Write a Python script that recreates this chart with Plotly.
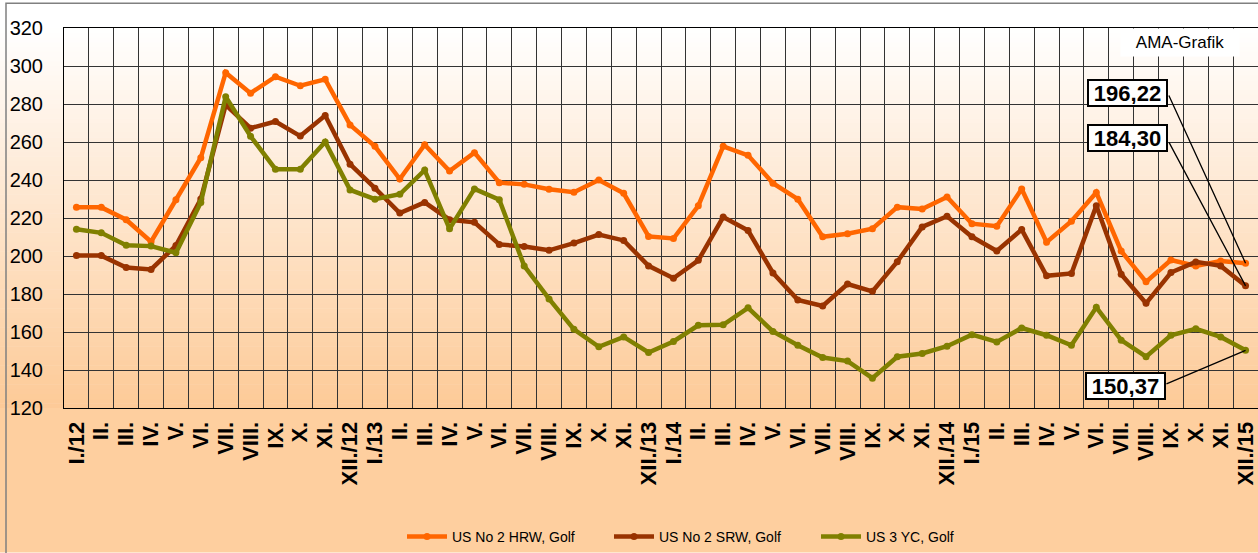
import plotly.graph_objects as go

# ---------------- data ----------------
roman = ["I.", "II.", "III.", "IV.", "V.", "VI.", "VII.", "VIII.", "IX.", "X.", "XI.", "XII."]
years = ["12", "13", "14", "15"]

hrw = [225.6, 225.6, 219.1, 207.5, 229.6, 251.7, 296.5, 285.7, 294.4, 289.6, 293.0, 269.0,
       257.7, 240.5, 258.6, 244.7, 254.4, 238.6, 237.7, 235.1, 233.6, 240.0, 233.0, 210.3,
       209.2, 226.4, 257.7, 253.0, 238.3, 229.9, 210.1, 211.7, 214.4, 225.7, 224.7, 231.1,
       217.0, 215.7, 235.3, 207.3, 218.3, 233.4, 202.6, 186.4, 197.9, 194.8, 197.4, 196.22]
srw = [200.2, 200.2, 193.9, 192.9, 205.5, 230.0, 279.5, 267.3, 270.8, 263.1, 273.9, 248.3,
       235.7, 222.6, 228.2, 219.1, 217.7, 206.1, 205.0, 203.0, 206.8, 211.3, 208.2, 194.8,
       188.3, 197.7, 220.5, 213.4, 191.1, 176.9, 173.7, 185.2, 181.4, 197.0, 215.3, 220.9,
       210.1, 202.6, 213.9, 189.6, 190.8, 226.4, 190.4, 175.1, 191.3, 196.9, 194.8, 184.30]
yc = [214.1, 212.2, 205.6, 205.2, 201.7, 228.2, 283.8, 263.0, 245.7, 245.7, 260.0, 234.8,
      229.9, 232.5, 245.2, 214.3, 235.3, 229.6, 194.8, 177.4, 161.4, 152.2, 157.4, 149.2,
      155.0, 163.5, 163.8, 172.7, 160.3, 153.0, 146.6, 144.7, 135.7, 147.0, 148.7, 152.5,
      158.6, 154.8, 162.1, 158.3, 153.0, 173.0, 155.7, 147.0, 158.3, 161.7, 157.4, 150.37]

series_names = ["US No 2 HRW, Golf", "US No 2 SRW, Golf", "US 3 YC, Golf"]
series_colors = ["#FF6600", "#993300", "#808000"]

labels = []
for y in years:
    for i, m in enumerate(roman):
        labels.append(f"{m}/{y}" if i in (0, 11) else m)

xs = list(range(len(labels)))

# ---------------- layout geometry ----------------
W, H = 1258, 553
ML, MR, MT, MB = 64, 0, 28, 141
PW, PH = W - ML - MR, H - MT - MB
FONT = "Arial, Liberation Sans, sans-serif"


def px_x(p):
    return (p - ML) / PW


def px_y(p):
    return (H - MB - p) / PH


fig = go.Figure()
for name, vals, col in zip(series_names, [hrw, srw, yc], series_colors):
    fig.add_trace(go.Scatter(
        x=xs, y=vals, name=name, mode="lines+markers",
        line=dict(color=col, width=4.5),
        marker=dict(color=col, size=7),
    ))

# gradient background
shapes = []
top, bot = MT, H - MB
n = 80
c0 = (255, 255, 255)
c1 = (253, 202, 151)
for k in range(n):
    t = (k + 0.5) / n
    col = tuple(round(c0[j] + (c1[j] - c0[j]) * t) for j in range(3))
    y0 = top + (bot - top) * k / n
    y1 = top + (bot - top) * (k + 1) / n + 0.6
    shapes.append(dict(type="rect", xref="paper", yref="paper", layer="below",
                       x0=px_x(0), x1=px_x(W + 5), y0=px_y(y1), y1=px_y(y0),
                       fillcolor="rgb(%d,%d,%d)" % col, line=dict(width=0)))
shapes.append(dict(type="rect", xref="paper", yref="paper", layer="below",
                   x0=px_x(0), x1=px_x(W + 5), y0=px_y(H + 5), y1=px_y(bot),
                   fillcolor="rgb(254,207,159)", line=dict(width=0)))
# outer frame
shapes.append(dict(type="rect", xref="paper", yref="paper", layer="above",
                   x0=px_x(6), x1=px_x(W + 20), y0=px_y(H + 20), y1=px_y(3),
                   fillcolor="rgba(0,0,0,0)", line=dict(color="#808080", width=1.5)))

annotations = []
# AMA-Grafik label box
annotations.append(dict(xref="paper", yref="paper", x=px_x(1180), y=1, xanchor="center",
                        yanchor="top", text="AMA-Grafik", showarrow=False,
                        font=dict(family=FONT, size=17, color="black"),
                        bgcolor="white", width=118, height=27, borderpad=0))

# value call-outs for the last points
last = len(xs) - 1
callouts = [
    (hrw[-1], (-118, -170), (-77.6, -169.7)),
    (srw[-1], (-118, -147.5), (-77.6, -145.5)),
    (yc[-1], (-119.6, 36), (-80.6, 34.3)),
]
for val, box_off, line_off in callouts:
    txt = f"{val:.2f}".replace(".", ",")
    annotations.append(dict(x=last, y=val, xref="x", yref="y", text=f"<b>{txt}</b>",
                            showarrow=True, arrowcolor="rgba(0,0,0,0)",
                            ax=box_off[0], ay=box_off[1],
                            font=dict(family=FONT, size=22, color="black"),
                            bgcolor="white", bordercolor="black", borderwidth=2,
                            borderpad=1, width=75, height=22))
    annotations.append(dict(x=last, y=val, xref="x", yref="y", text=" ",
                            showarrow=True, arrowhead=0, arrowwidth=1.3,
                            arrowcolor="black", standoff=0,
                            ax=line_off[0], ay=line_off[1],
                            font=dict(size=1)))

fig.update_layout(
    width=W, height=H,
    margin=dict(l=ML, r=MR, t=MT, b=MB),
    paper_bgcolor="white",
    plot_bgcolor="rgba(0,0,0,0)",
    font=dict(family=FONT, color="black"),
    shapes=shapes,
    annotations=annotations,
    showlegend=True,
    legend=dict(orientation="h", x=px_x(402), xanchor="left", y=px_y(543), yanchor="middle",
                font=dict(family=FONT, size=14, color="black"),
                bgcolor="rgba(0,0,0,0)", entrywidth=152, entrywidthmode="pixels",
                itemwidth=40),
    xaxis=dict(
        range=[-0.5, len(xs) - 0.5],
        tickmode="array", tickvals=xs, ticktext=labels,
        tickangle=-90, tickfont=dict(family=FONT, size=22, color="black", weight="bold"),
        ticks="outside", ticklen=4, tickcolor="rgba(0,0,0,0)",
        showgrid=False, zeroline=False,
        showline=True, linecolor="black", linewidth=1, mirror=True,
        minor=dict(tickmode="linear", tick0=0.5, dtick=1, showgrid=True,
                   gridcolor="#333333", gridwidth=1, ticks=""),
        fixedrange=True,
    ),
    yaxis=dict(
        range=[120, 320], tickmode="linear", tick0=120, dtick=20,
        tickfont=dict(family=FONT, size=20, color="black"),
        ticks="outside", ticklen=16, tickcolor="rgba(0,0,0,0)",
        showgrid=True, gridcolor="#333333", gridwidth=1, zeroline=False,
        showline=True, linecolor="black", linewidth=1, mirror=True,
        fixedrange=True,
    ),
)

fig.write_html(
    "out.html",
    config={"displayModeBar": False},
    post_script="document.body.style.margin='0';document.body.style.overflow='hidden';",
)
